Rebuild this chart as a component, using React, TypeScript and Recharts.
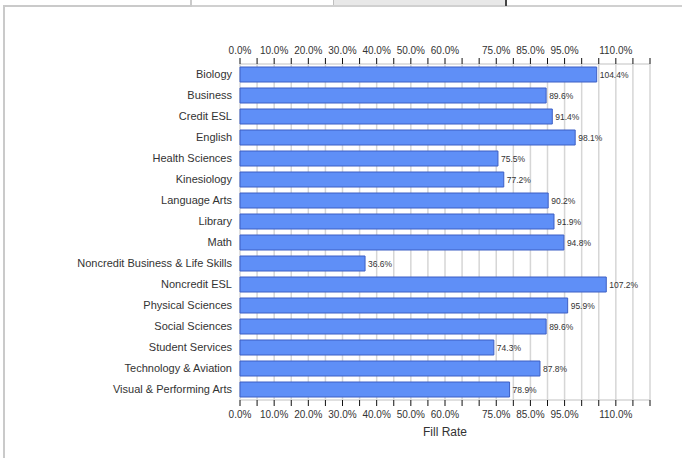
import { BarChart, Bar, XAxis, YAxis, CartesianGrid, LabelList } from 'recharts';

const departments = [
  'Biology',
  'Business',
  'Credit ESL',
  'English',
  'Health Sciences',
  'Kinesiology',
  'Language Arts',
  'Library',
  'Math',
  'Noncredit Business & Life Skills',
  'Noncredit ESL',
  'Physical Sciences',
  'Social Sciences',
  'Student Services',
  'Technology & Aviation',
  'Visual & Performing Arts',
];

const fillRates = [104.4, 89.6, 91.4, 98.1, 75.5, 77.2, 90.2, 91.9, 94.8, 36.6, 107.2, 95.9, 89.6, 74.3, 87.8, 78.9];

// tick marks every 5%, but only some of them carry a label
const tickValues = [0, 5, 10, 15, 20, 25, 30, 35, 40, 45, 50, 55, 60, 65, 70, 75, 80, 85, 90, 95, 100, 105, 110, 115, 120];
const labeledTicks = [0, 10, 20, 30, 40, 50, 60, 75, 85, 95, 110];

const data = departments.map((name, i) => ({ name, rate: fillRates[i] }));

const FONT = '"Liberation Sans", Arial, sans-serif';

function PctTick({ x, y, payload, top }: any) {
  if (!labeledTicks.includes(payload.value)) return null;
  return (
    <text
      x={x}
      y={top ? y - 2 : y + 10}
      textAnchor="middle"
      fill="#333"
      fontSize={10}
      fontFamily={FONT}
    >
      {payload.value.toFixed(1)}%
    </text>
  );
}

const line = (s: any) => <div style={{ position: 'absolute', ...s }} />;

export default function App() {
  return (
    <div style={{ position: 'absolute', left: 0, top: 0, width: 682, height: 458, background: '#fff' }}>
      {line({ left: 3, top: 5, width: 188, height: 2, background: '#cacaca' })}
      {line({ left: 3, top: 5, width: 2, height: 453, background: '#cacaca' })}
      {line({ left: 190, top: 0, width: 2, height: 7, background: '#cacaca' })}
      {line({ left: 192, top: 5, width: 490, height: 2, background: '#d0d0d0' })}
      {line({ left: 333, top: 0, width: 172, height: 5, background: '#e8e8e8', borderLeft: '1px solid #c0c0c0' })}
      {line({ left: 505, top: 0, width: 2, height: 6, background: '#444' })}
      <BarChart
        width={682}
        height={458}
        data={data}
        layout="vertical"
        margin={{ top: 0, right: 32, bottom: 0, left: 0 }}
        style={{ position: 'absolute', left: 0, top: 0 }}
      >
        <CartesianGrid
          xAxisId="bottom"
          stroke="#d6d6d6"
          strokeWidth={1.5}
          horizontalCoordinatesGenerator={({ offset }: any) => [offset.top, offset.top + offset.height]}
        />
        <XAxis
          xAxisId="top"
          orientation="top"
          type="number"
          domain={[0, 120]}
          ticks={tickValues}
          height={64}
          axisLine={false}
          tickLine={{ stroke: '#111' }}
          tickSize={6}
          tickMargin={2}
          tick={<PctTick top />}
          interval={0}
        />
        <XAxis
          xAxisId="bottom"
          orientation="bottom"
          type="number"
          domain={[0, 120]}
          ticks={tickValues}
          height={58}
          axisLine={false}
          tickLine={{ stroke: '#111' }}
          tickSize={6}
          tickMargin={2}
          tick={<PctTick />}
          interval={0}
          label={{ value: 'Fill Rate', position: 'insideTop', offset: 27, fill: '#333', fontSize: 12, fontFamily: FONT }}
        />
        <YAxis
          type="category"
          dataKey="name"
          width={240}
          axisLine={false}
          tickLine={false}
          tickSize={0}
          tickMargin={8}
          interval={0}
          tick={{ fill: '#333', fontSize: 11, fontFamily: FONT }}
        />
        <YAxis yAxisId="ghost" type="category" dataKey="name" hide />
        {/* invisible series so the top axis gets drawn */}
        <Bar
          xAxisId="top"
          yAxisId="ghost"
          dataKey="rate"
          barSize={15}
          fill="none"
          stroke="none"
          isAnimationActive={false}
        />
        <Bar
          xAxisId="bottom"
          dataKey="rate"
          barSize={15}
          fill="#5f8ff7"
          stroke="#3d5fc4"
          strokeWidth={1}
          isAnimationActive={false}
        >
          <LabelList
            dataKey="rate"
            position="right"
            offset={3}
            formatter={(v: any) => `${Number(v).toFixed(1)}%`}
            fill="#333"
            fontSize={8.5}
            fontFamily={FONT}
          />
        </Bar>
      </BarChart>
    </div>
  );
}
